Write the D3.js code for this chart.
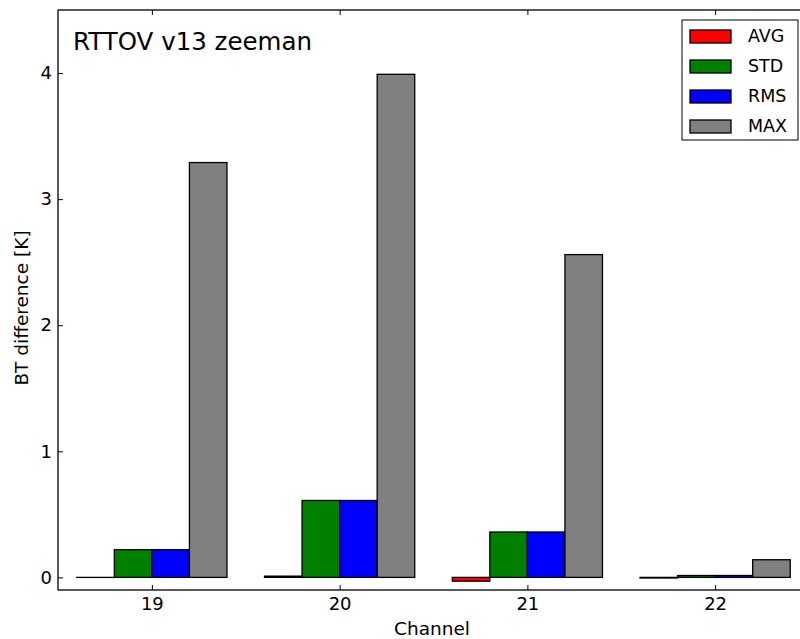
<!DOCTYPE html>
<html>
<head>
<meta charset="utf-8">
<script src="https://cdn.jsdelivr.net/npm/d3@7"></script>
<style>
  body { margin: 0; background: #fff; }
  svg { font-family: "DejaVu Sans", sans-serif; }
</style>
</head>
<body>
<div id="chart"></div>
<script>
// data
var channels = [19, 20, 21, 22];
var avgVals = [0.0, 0.01, -0.03, -0.005];
var stdVals = [0.22, 0.61, 0.36, 0.015];
var rmsVals = [0.22, 0.61, 0.36, 0.015];
var maxVals = [3.29, 3.99, 2.56, 0.14];
var seriesNames = ['AVG', 'STD', 'RMS', 'MAX'];
var seriesColors = ['#ff0000', '#008000', '#0000ff', '#808080'];
var yTicks = [0, 1, 2, 3, 4];

var allSeries = [avgVals, stdVals, rmsVals, maxVals];

var width = 800, height = 639;
var margin = {top: 10, right: -9, bottom: 49, left: 58};

var svg = d3.select('#chart').append('svg')
    .attr('width', width)
    .attr('height', height);

var xScale = d3.scaleLinear()
    .domain([18.5, 22.5])
    .range([margin.left, width - margin.right]);
var yScale = d3.scaleLinear()
    .domain([-0.1, 4.5])
    .range([height - margin.bottom, margin.top]);

var barW = 0.2;

// bars (zero-height ones still show their outline)
allSeries.forEach(function(vals, s){
    svg.append('g').selectAll('rect')
        .data(vals)
        .enter()
        .append('rect')
            .attr('x', function(d, i){ return xScale(channels[i] - 0.4 + s * barW); })
            .attr('y', function(d){ return yScale(Math.max(d, 0)); })
            .attr('width', xScale(18.5 + barW) - xScale(18.5))
            .attr('height', function(d){ return Math.max(Math.abs(yScale(d) - yScale(0)), 0.01); })
            .attr('fill', seriesColors[s])
            .attr('stroke', '#000')
            .attr('stroke-width', 1.3);
});

// axes (inward ticks, matplotlib style)
var x0 = margin.left, x1 = width - margin.right;
var y0 = height - margin.bottom, y1 = margin.top;

svg.append('g')
    .attr('transform', 'translate(0,' + y0 + ')')
    .call(d3.axisBottom(xScale).tickValues(channels).tickSize(-5).tickPadding(7).tickFormat(d3.format('d')))
    .call(function(g){ g.select('.domain').remove(); });
svg.append('g')
    .attr('transform', 'translate(0,' + y1 + ')')
    .call(d3.axisTop(xScale).tickValues(channels).tickSize(-5).tickFormat(''))
    .call(function(g){ g.select('.domain').remove(); });
svg.append('g')
    .attr('transform', 'translate(' + x0 + ',0)')
    .call(d3.axisLeft(yScale).tickValues(yTicks).tickSize(-5).tickPadding(6).tickFormat(d3.format('d')))
    .call(function(g){ g.select('.domain').remove(); });

svg.selectAll('.tick text').attr('font-size', 18).attr('fill', '#000')
    .attr('font-family', '"DejaVu Sans", sans-serif');
svg.selectAll('.tick line').attr('stroke', '#000');

// frame
svg.append('rect')
    .attr('x', x0).attr('y', y1)
    .attr('width', x1 - x0).attr('height', y0 - y1)
    .attr('fill', 'none').attr('stroke', '#000').attr('stroke-width', 1.3);

// title inside plot
svg.append('text')
    .attr('x', 73).attr('y', 50)
    .attr('font-size', 24.5)
    .text('RTTOV v13 zeeman');

// axis labels
svg.append('text')
    .attr('x', 432).attr('y', 635)
    .attr('text-anchor', 'middle')
    .attr('font-size', 18.5)
    .text('Channel');
svg.append('text')
    .attr('transform', 'translate(28,' + ((y0 + y1) / 2 + 8) + ') rotate(-90)')
    .attr('text-anchor', 'middle')
    .attr('font-size', 18.5)
    .text('BT difference [K]');

// legend
var leg = svg.append('g');
leg.append('rect')
    .attr('x', 682).attr('y', 20)
    .attr('width', 116).attr('height', 120)
    .attr('fill', '#fff').attr('stroke', '#000');
seriesNames.forEach(function(name, i){
    leg.append('rect')
        .attr('x', 690).attr('y', 30 + i * 30)
        .attr('width', 41).attr('height', 13)
        .attr('fill', seriesColors[i]).attr('stroke', '#000').attr('stroke-width', 1.3);
    leg.append('text')
        .attr('x', 748).attr('y', 42 + i * 30)
        .attr('font-size', 17.5)
        .text(name);
});
</script>
</body>
</html>
